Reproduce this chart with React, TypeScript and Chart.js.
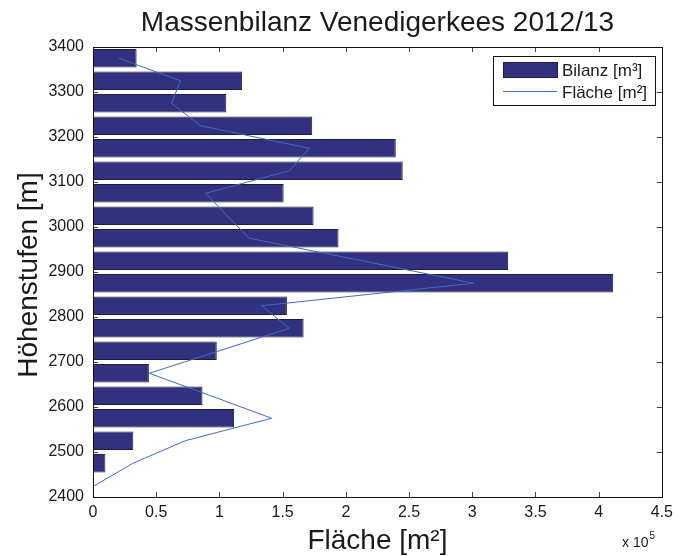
import React, { useEffect, useRef } from 'react';
import { Chart, registerables } from 'chart.js';

Chart.register(...registerables);

// Höhenstufen (band centres, m)
const altitudes = [2425, 2475, 2525, 2575, 2625, 2675, 2725, 2775, 2825, 2875, 2925, 2975, 3025, 3075, 3125, 3175, 3225, 3275, 3325, 3375];
// Bilanz [m³] (x 10^5)
const bilanzValues = [0.005, 0.098, 0.319, 1.116, 0.866, 0.442, 0.979, 1.666, 1.534, 4.115, 3.284, 1.942, 1.745, 1.508, 2.45, 2.395, 1.734, 1.055, 1.18, 0.345];
// Fläche [m²] (x 10^5)
const flaecheValues = [0.01, 0.316, 0.729, 1.413, 0.931, 0.445, 1.0, 1.552, 1.334, 3.01, 2.13, 1.237, 1.06, 0.892, 1.553, 1.71, 0.852, 0.621, 0.692, 0.205];

const yMin = 2400;
const yMax = 3400;
const yStep = 100;
const xMin = 0;
const xMax = 4.5;
const xStep = 0.5;

const titleText = 'Massenbilanz Venedigerkees 2012/13';
const xTitle = 'Fläche [m²]';
const yTitle = 'Höhenstufen [m]';
const bilanzLabel = 'Bilanz [m³]';
const flaecheLabel = 'Fläche [m²]';
const exponentBase = 'x 10';
const exponent = '5';

const FONT = "'Liberation Sans', Arial, Helvetica, sans-serif";
const BAR_COLOR = '#32317f';
const BAR_BORDER = '#1e1e3a';
const LINE_COLOR = '#4169c8';
const TEXT_COLOR = '#1a1a1a';

const decorPlugin = {
  id: 'matlabDecor',
  beforeDatasetsDraw(chart: any) {
    const { ctx, chartArea: a, scales } = chart;
    ctx.save();
    ctx.strokeStyle = '#444';
    ctx.lineWidth = 1;
    const len = 5;
    scales.y.ticks.forEach((t: any) => {
      const py = Math.round(scales.y.getPixelForValue(t.value)) + 0.5;
      ctx.beginPath();
      ctx.moveTo(a.left, py);
      ctx.lineTo(a.left + len, py);
      ctx.moveTo(a.right - len, py);
      ctx.lineTo(a.right, py);
      ctx.stroke();
    });
    scales.x.ticks.forEach((t: any) => {
      const px = Math.round(scales.x.getPixelForValue(t.value)) + 0.5;
      ctx.beginPath();
      ctx.moveTo(px, a.top);
      ctx.lineTo(px, a.top + len);
      ctx.moveTo(px, a.bottom - len);
      ctx.lineTo(px, a.bottom);
      ctx.stroke();
    });
    ctx.restore();
  },
  afterDraw(chart: any) {
    const { ctx, chartArea: a } = chart;
    ctx.save();
    // box
    ctx.strokeStyle = '#111';
    ctx.lineWidth = 1;
    ctx.strokeRect(Math.round(a.left) + 0.5, Math.round(a.top) + 0.5, Math.round(a.right - a.left), Math.round(a.bottom - a.top));

    const cx = (a.left + a.right) / 2;
    const cy = (a.top + a.bottom) / 2;
    ctx.fillStyle = TEXT_COLOR;
    // title
    ctx.font = `28px ${FONT}`;
    ctx.textAlign = 'center';
    ctx.textBaseline = 'alphabetic';
    ctx.fillText(titleText, cx, 31);
    // x title
    ctx.font = `28px ${FONT}`;
    ctx.fillText(xTitle, cx, 549);
    // y title
    ctx.save();
    ctx.translate(37, cy + 3);
    ctx.rotate(-Math.PI / 2);
    ctx.fillText(yTitle, 0, 0);
    ctx.restore();
    // exponent
    ctx.font = `14px ${FONT}`;
    ctx.textAlign = 'left';
    ctx.fillText(exponentBase, 622, 547);
    const w = ctx.measureText(exponentBase).width;
    ctx.font = `10px ${FONT}`;
    ctx.fillText(exponent, 622 + w + 1, 539);

    // legend
    const lx = 493.5, ly = 56.5, lw = 162, lh = 49;
    ctx.fillStyle = '#fff';
    ctx.fillRect(lx, ly, lw, lh);
    ctx.strokeStyle = '#111';
    ctx.strokeRect(lx, ly, lw, lh);
    ctx.fillStyle = BAR_COLOR;
    ctx.fillRect(503.5, 62.5, 54, 15);
    ctx.strokeStyle = BAR_BORDER;
    ctx.strokeRect(503.5, 62.5, 54, 15);
    ctx.strokeStyle = LINE_COLOR;
    ctx.beginPath();
    ctx.moveTo(503, 91.5);
    ctx.lineTo(557, 91.5);
    ctx.stroke();
    ctx.fillStyle = TEXT_COLOR;
    ctx.font = `17px ${FONT}`;
    ctx.textBaseline = 'middle';
    ctx.fillText(bilanzLabel, 562, 71);
    ctx.fillText(flaecheLabel, 562, 93);
    ctx.restore();
  },
};

export default function App() {
  const ref = useRef<HTMLCanvasElement | null>(null);

  useEffect(() => {
    document.body.style.margin = '0';
    const canvas = ref.current;
    if (!canvas) return;
    const chart = new Chart(canvas, {
      type: 'bar',
      data: {
        datasets: [
          {
            type: 'line',
            label: flaecheLabel,
            data: altitudes.map((alt, i) => ({ x: flaecheValues[i], y: alt })),
            borderColor: LINE_COLOR,
            borderWidth: 1,
            pointRadius: 0,
            tension: 0,
            fill: false,
            indexAxis: 'y',
            order: 0,
          } as any,
          {
            type: 'bar',
            label: bilanzLabel,
            data: altitudes.map((alt, i) => ({ x: bilanzValues[i], y: alt })),
            backgroundColor: BAR_COLOR,
            borderColor: BAR_BORDER,
            borderWidth: 1,
            borderSkipped: false,
            barPercentage: 0.82,
            categoryPercentage: 1,
            order: 1,
          } as any,
        ],
      },
      options: {
        indexAxis: 'y',
        responsive: false,
        animation: false,
        devicePixelRatio: 1,
        layout: { padding: { top: 47, right: 16, left: 0, bottom: 0 } },
        plugins: {
          legend: { display: false },
          tooltip: { enabled: false },
          title: { display: false },
        },
        scales: {
          x: {
            type: 'linear',
            min: xMin,
            max: xMax,
            grid: { display: false, drawTicks: false },
            border: { display: false },
            ticks: {
              stepSize: xStep,
              padding: 6,
              color: TEXT_COLOR,
              font: { family: FONT, size: 16 },
              callback: (v: any) => String(Number(v)),
              maxRotation: 0,
              autoSkip: false,
            },
            afterFit: (s: any) => { s.height = 59; },
          },
          y: {
            type: 'linear',
            min: yMin,
            max: yMax,
            offset: false,
            grid: { display: false, drawTicks: false, offset: false },
            border: { display: false },
            ticks: {
              stepSize: yStep,
              padding: 9,
              color: TEXT_COLOR,
              font: { family: FONT, size: 16 },
              callback: (v: any) => String(Number(v)),
              autoSkip: false,
            },
            afterFit: (s: any) => { s.width = 93; },
          },
        },
      } as any,
      plugins: [decorPlugin],
    });
    return () => chart.destroy();
  }, []);

  return <canvas ref={ref} width={679} height={556} style={{ display: 'block' }} />;
}
